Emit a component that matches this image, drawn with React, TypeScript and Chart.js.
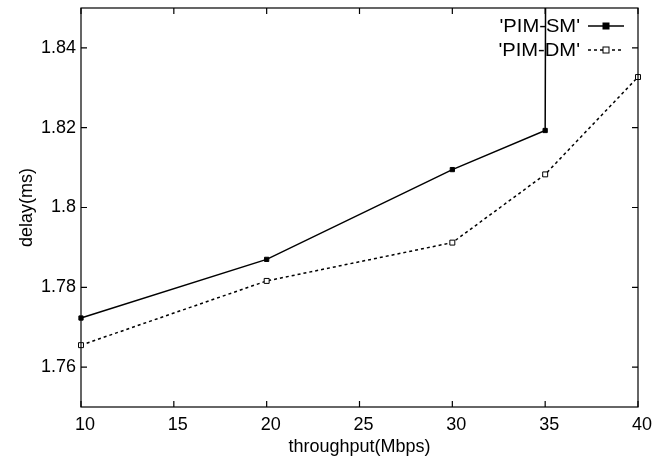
import React, { useEffect, useRef } from "react";
import { Chart, registerables } from "chart.js";

Chart.register(...registerables);

const throughput = [10, 20, 30, 35, 40];
const pimSm = [1.7723, 1.787, 1.8095, 1.8193, 9.5];
const pimDm = [1.7655, 1.7816, 1.7912, 1.8083, 1.8327];
const seriesNames = ["'PIM-SM'", "'PIM-DM'"];
const xTicks = [10, 15, 20, 25, 30, 35, 40];
const yTicks = [1.76, 1.78, 1.8, 1.82, 1.84];
const xTitle = "throughput(Mbps)";
const yTitle = "delay(ms)";

const FONT = "'Liberation Sans', Arial, Helvetica, sans-serif";

const frameAndLegend = {
  id: "frameAndLegend",
  afterDatasetsDraw(chart: any) {
    const { ctx, chartArea: a, scales } = chart;
    ctx.save();
    ctx.strokeStyle = "#000";
    ctx.lineWidth = 1.2;
    ctx.strokeRect(a.left, a.top, a.right - a.left, a.bottom - a.top);
    const tl = 6;
    ctx.beginPath();
    for (const v of xTicks) {
      const px = scales.x.getPixelForValue(v);
      ctx.moveTo(px, a.bottom);
      ctx.lineTo(px, a.bottom - tl);
      ctx.moveTo(px, a.top);
      ctx.lineTo(px, a.top + tl);
    }
    for (const v of yTicks) {
      const py = scales.y.getPixelForValue(v);
      ctx.moveTo(a.left, py);
      ctx.lineTo(a.left + tl, py);
      ctx.moveTo(a.right, py);
      ctx.lineTo(a.right - tl, py);
    }
    ctx.stroke();

    // legend
    const textRight = a.right - 58;
    const lineStart = a.right - 50;
    const lineEnd = a.right - 14;
    const rows = [a.top + 18, a.top + 42];
    chart.data.datasets.forEach((ds: any, i: number) => {
      const y = rows[i];
      ctx.save();
      ctx.translate(textRight, y + 1);
      ctx.scale(1.12, 1);
      ctx.font = "18px " + FONT;
      ctx.textAlign = "right";
      ctx.textBaseline = "middle";
      ctx.fillStyle = "#000";
      ctx.fillText(ds.label, 0, 0);
      ctx.restore();
      ctx.beginPath();
      ctx.setLineDash(ds.borderDash || []);
      ctx.lineWidth = ds.borderWidth;
      ctx.strokeStyle = "#000";
      ctx.moveTo(lineStart, y);
      ctx.lineTo(lineEnd, y);
      ctx.stroke();
      ctx.setLineDash([]);
      const mx = (lineStart + lineEnd) / 2;
      const s = 6;
      ctx.fillStyle = ds.pointBackgroundColor;
      ctx.fillRect(mx - s / 2, y - s / 2, s, s);
      ctx.lineWidth = 1;
      ctx.strokeRect(mx - s / 2, y - s / 2, s, s);
    });
    ctx.restore();
  },
};

export default function App() {
  const ref = useRef<HTMLCanvasElement>(null);
  useEffect(() => {
    if (!ref.current) return;
    const chart = new Chart(ref.current, {
      type: "line",
      data: {
        datasets: [
          {
            label: seriesNames[0],
            data: throughput.map((x, i) => ({ x, y: pimSm[i] })),
            borderColor: "#000",
            borderWidth: 1.5,
            pointStyle: "rect",
            pointRadius: 3,
            pointBackgroundColor: "#000",
            pointBorderColor: "#000",
            pointBorderWidth: 1,
            tension: 0,
            clip: { left: 6, right: 6, top: 0, bottom: 6 },
          },
          {
            label: seriesNames[1],
            data: throughput.map((x, i) => ({ x, y: pimDm[i] })),
            borderColor: "#000",
            borderWidth: 1.5,
            borderDash: [3, 3],
            pointStyle: "rect",
            pointRadius: 3.5,
            pointBackgroundColor: "#fff",
            pointBorderColor: "#000",
            pointBorderWidth: 1,
            tension: 0,
            clip: 6,
          },
        ],
      },
      options: {
        animation: false,
        responsive: false,
        layout: { padding: { top: 8, right: 31, left: 0, bottom: 0 } },
        plugins: { legend: { display: false }, tooltip: { enabled: false } },
        scales: {
          x: {
            type: "linear",
            min: 10,
            max: 40,
            afterBuildTicks: (s: any) => {
              s.ticks = xTicks.map((v) => ({ value: v }));
            },
            afterFit: (s: any) => {
              s.height = 62;
              s.paddingLeft = 0;
              s.paddingRight = 0;
            },
            grid: { display: false, drawTicks: false },
            border: { display: false },
            ticks: {
              color: "#000",
              font: { family: FONT, size: 18 },
              padding: 7,
              labelOffset: 4,
              maxRotation: 0,
              autoSkip: false,
            },
            title: {
              display: true,
              text: xTitle,
              color: "#000",
              font: { family: FONT, size: 18 },
              padding: { top: 0, bottom: 11 },
            },
          },
          y: {
            type: "linear",
            min: 1.75,
            max: 1.85,
            afterBuildTicks: (s: any) => {
              s.ticks = yTicks.map((v) => ({ value: v }));
            },
            afterFit: (s: any) => {
              s.width = 81;
              s.paddingTop = 0;
              s.paddingBottom = 0;
            },
            grid: { display: false, drawTicks: false },
            border: { display: false },
            ticks: {
              color: "#000",
              font: { family: FONT, size: 18 },
              padding: 5,
              callback: (v: any) => String(Number(Number(v).toFixed(2))),
            },
            title: {
              display: true,
              text: yTitle,
              color: "#000",
              font: { family: FONT, size: 18 },
              padding: { top: 16, bottom: 0 },
            },
          },
        },
      },
      plugins: [frameAndLegend],
    });
    return () => chart.destroy();
  }, []);
  return (
    <div style={{ position: "fixed", left: 0, top: 0, width: 669, height: 469, background: "#fff" }}>
      <canvas ref={ref} width={669} height={469} style={{ width: 669, height: 469, display: "block" }} />
    </div>
  );
}
